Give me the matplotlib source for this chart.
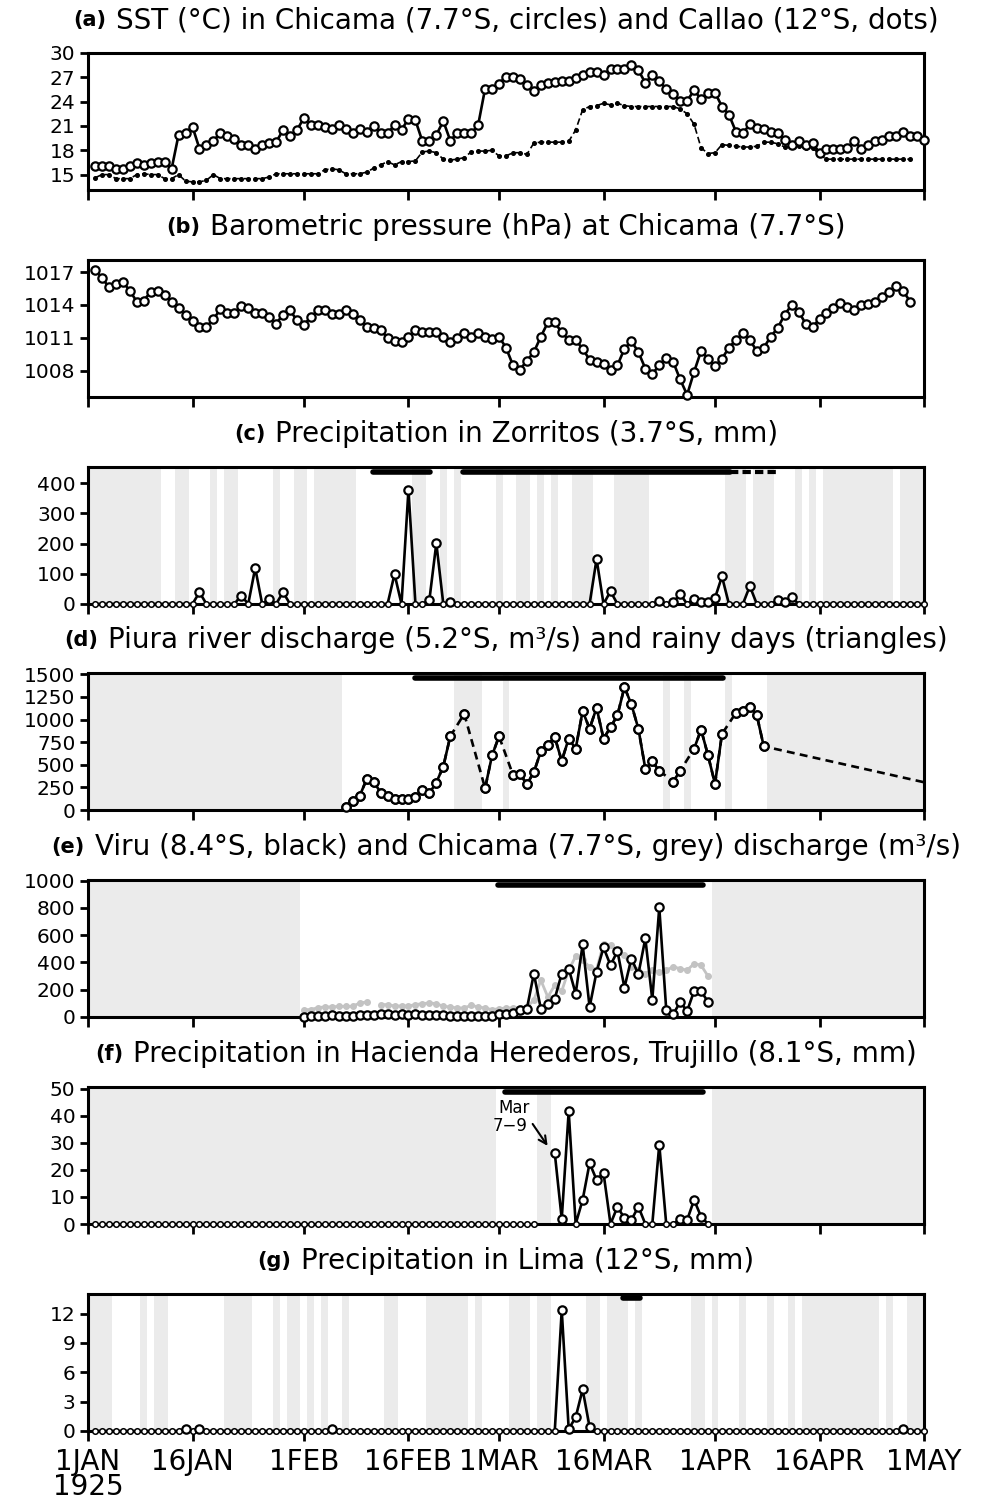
import numpy as np
import matplotlib.pyplot as plt

# ---------------- data (day 0 = 1 Jan 1925) ----------------
tick_days = [0, 15, 31, 46, 59, 74, 90, 105, 120]
tick_labels = ['1JAN\n1925', '16JAN', '1FEB', '16FEB', '1MAR', '16MAR', '1APR', '16APR', '1MAY']

# (a) SST
sst_chicama = [16.1, 16.0, 16.0, 15.7, 15.7, 16.1, 16.4, 16.2, 16.4, 16.6,
               16.6, 15.7, 19.9, 20.1, 20.9, 18.2, 18.6, 19.2, 20.1, 19.7,
               19.4, 18.6, 18.6, 18.2, 18.6, 18.9, 19.0, 20.5, 19.7, 20.5,
               22.0, 21.1, 21.1, 20.9, 20.6, 21.1, 20.6, 20.1, 20.6, 20.3,
               21.0, 20.1, 20.1, 21.1, 20.5, 21.9, 21.7, 19.1, 19.1, 19.9,
               21.6, 19.2, 20.1, 20.1, 20.1, 21.1, 25.6, 25.6, 26.2, 27.1,
               27.1, 26.8, 26.0, 25.3, 26.1, 26.3, 26.4, 26.5, 26.5, 26.9,
               27.3, 27.6, 27.6, 27.3, 28.0, 28.0, 28.0, 28.5, 27.9, 26.3,
               27.3, 26.5, 25.6, 25.0, 24.1, 24.1, 25.4, 24.3, 25.1, 25.1,
               23.4, 22.4, 20.3, 20.1, 21.2, 20.8, 20.6, 20.3, 20.1, 19.3,
               18.6, 19.2, 18.7, 18.9, 17.7, 18.2, 18.2, 18.2, 18.3, 19.2,
               18.2, 18.7, 19.2, 19.3, 19.7, 19.7, 20.2, 19.7, 19.7, 19.3]
sst_chicama_days = np.arange(1, 121)
sst_callao = [14.6, 15.0, 15.0, 14.5, 14.5, 14.5, 15.0, 15.1, 15.0, 15.0,
              14.5, 14.5, 15.0, 14.2, 14.1, 14.1, 14.3, 15.0, 14.5, 14.5,
              14.5, 14.5, 14.5, 14.5, 14.5, 14.7, 15.1, 15.1, 15.1, 15.1,
              15.1, 15.1, 15.1, 15.6, 15.7, 15.6, 15.1, 15.1, 15.1, 15.3,
              15.8, 16.2, 16.6, 16.2, 16.6, 16.6, 16.7, 17.8, 17.9, 17.7,
              16.9, 16.8, 16.9, 17.1, 17.8, 17.9, 17.9, 18.0, 17.3, 17.3,
              17.7, 17.7, 17.5, 18.9, 19.0, 19.0, 19.0, 19.0, 19.1, 20.5,
              23.0, 23.4, 23.5, 23.8, 23.6, 23.8, 23.5, 23.4, 23.4, 23.4,
              23.4, 23.4, 23.4, 23.4, 23.1, 22.5, 21.2, 18.3, 17.6, 17.7,
              18.7, 18.6, 18.5, 18.4, 18.4, 18.5, 19.0, 19.0, 18.8, 18.4,
              18.5, 18.5, 18.3, 18.3, 17.5, 16.9, 16.9, 16.9, 16.9, 16.9,
              16.9, 16.9, 16.9, 16.9, 16.9, 16.9, 16.9, 16.9]
sst_callao_days = np.arange(1, 119)

# (b) pressure
pressure = [1017.2, 1016.5, 1015.6, 1015.9, 1016.1, 1015.3, 1014.3, 1014.4, 1015.2, 1015.3,
            1014.9, 1014.3, 1013.7, 1013.1, 1012.5, 1012.0, 1012.0, 1012.7, 1013.6, 1013.3,
            1013.3, 1013.9, 1013.7, 1013.3, 1013.3, 1012.9, 1012.3, 1013.1, 1013.5, 1012.6,
            1012.2, 1012.9, 1013.5, 1013.5, 1013.2, 1013.2, 1013.5, 1013.2, 1012.6, 1012.0,
            1011.9, 1011.7, 1011.0, 1010.7, 1010.6, 1011.1, 1011.7, 1011.5, 1011.5, 1011.5,
            1011.1, 1010.6, 1011.0, 1011.4, 1011.1, 1011.4, 1011.1, 1010.9, 1011.1, 1010.1,
            1008.5, 1008.1, 1008.9, 1009.7, 1011.1, 1012.4, 1012.4, 1011.5, 1010.8, 1010.8,
            1010.0, 1009.0, 1008.8, 1008.6, 1008.1, 1008.5, 1010.0, 1010.7, 1009.7, 1008.2,
            1007.7, 1008.5, 1009.2, 1008.8, 1007.2, 1005.8, 1007.9, 1009.8, 1009.1, 1008.4,
            1009.1, 1010.1, 1010.8, 1011.4, 1010.8, 1009.8, 1010.1, 1011.1, 1011.9, 1013.1,
            1014.0, 1013.4, 1012.3, 1012.0, 1012.7, 1013.3, 1013.7, 1014.2, 1013.8, 1013.5,
            1014.0, 1014.1, 1014.3, 1014.7, 1015.2, 1015.7, 1015.3, 1014.3]
pressure_days = np.arange(1, 119)

# (c) Zorritos precipitation (days with rain; all other days 0)
zor_days = np.arange(1, 121)
zor_rain_days = [16, 22, 24, 26, 28, 44, 46, 49, 50, 52, 73, 75, 82, 84, 85, 87, 88, 89, 90, 91, 95, 99, 100, 101]
zor_rain_mm = [39, 28, 119, 17, 39, 99, 378, 13, 201, 5, 149, 42, 11, 5, 33, 17, 5, 5, 20, 91, 59, 13, 5, 22]
zor_gaps = [(0, 10.5), (12.5, 14.5), (17.5, 18.5), (19.5, 21.5), (26.5, 27.5), (29.5, 31.5),
            (32.5, 38.5), (46.5, 48.5), (50.5, 51.5), (52.5, 53.5), (58.5, 59.5), (61.5, 63.5),
            (64.5, 65.5), (66.5, 67.5), (69.5, 72.5), (75.5, 80.5), (91.5, 94.5), (95.5, 98.5),
            (101.5, 102.5), (103.5, 104.5), (105.5, 115.5), (116.5, 120)]
zor_bars = [(40.9, 49.1), (53.8, 92.2)]
zor_bar_dashed = (92.2, 98.7)

# (d) Piura discharge (nan = missing day)
piura_days = np.arange(37, 98)
piura_q = [37, 104, 156, 341, 315, 193, 156, 119, 119, 119,
           148, 222, 185, 304, 481, 815, np.nan, 1063, np.nan, np.nan,
           241, 604, 815, np.nan, 389, 400, 285, 419, 648, 722,
           804, 544, 789, 678, 1093, 900, 1130, 789, 915, 1048,
           1359, 1167, 900, 456, 537, 433, np.nan, 315, 433, np.nan,
           678, 889, 604, 289, 841, np.nan, 1074, 1093, 1141, 1048, 704]
piura_end_day, piura_end_q = 120, 307
rain_heavy = [42, 43, 45, 48, 60, 66, 68, 69, 87, 88, 89, 90, 92]
rain_light = [32, 50, 52, 53, 54, 57, 58, 63, 64, 67, 70, 71, 73, 79, 81, 82, 84, 85, 86,
              91, 93, 94, 95, 107, 110]
piura_gaps = [(0, 36.5), (52.5, 56.5), (59.5, 60.5), (82.5, 83.5), (85.5, 86.5), (91.5, 92.5), (97.5, 120)]
piura_bars = [(46.9, 91.2)]

# (e) Viru and Chicama discharge
viru_days = np.arange(31, 90)
viru_q = [0, 5, 5, 5, 12, 5, 5, 5, 12, 12,
          12, 20, 20, 12, 20, 12, 20, 12, 12, 12,
          12, 5, 5, 5, 5, 5, 5, 5, 20, 25,
          29, 49, 61, 318, 61, 93, 135, 318, 355, 171,
          532, 73, 331, 510, 380, 483, 216, 429, 314, 576,
          127, 804, 54, 20, 110, 44, 191, 191, 110]
chic_days = np.arange(31, 90)
chic_q = [54, 54, 69, 74, 74, 78, 78, 78, 103, 110,
          np.nan, 91, 91, 81, 81, 81, 91, 98, 103, 98,
          78, 74, 66, 66, 86, 74, 66, 54, 61, 66,
          66, 66, 74, 123, 270, 147, 233, 191, 343, 446,
          417, 368, 348, 539, 527, 478, 453, 368, 343, 319,
          343, 331, 343, 368, 355, 343, 392, 380, 299]
viru_gaps = [(0, 30.5), (89.5, 120)]
viru_bars = [(58.8, 88.3)]

# (f) Hacienda Herederos precipitation
her_days = list(range(1, 65)) + list(range(67, 90))
her_mm = [0] * 64 + [26.2, 1.9, 41.6, 0, 8.9, 22.5, 16.3, 18.8, 0, 6.4,
                     2.1, 1.5, 6.4, 0, 0, 29.3, 0, 0, 1.9, 1.5, 8.9, 2.7, 0]
her_gaps = [(0, 58.5), (64.5, 66.5), (89.5, 120)]
her_bars = [(59.8, 88.3)]

# (g) Lima precipitation
lima_days = np.arange(1, 121)
lima_rain_days = [14, 16, 35, 68, 69, 70, 71, 72, 117]
lima_rain_mm = [0.2, 0.2, 0.2, 12.35, 0.2, 1.4, 4.25, 0.4, 0.2]
lima_gaps = [(0, 3.5), (7.5, 8.5), (9.5, 11.5), (19.5, 23.5), (26.5, 27.5), (28.5, 30.5),
             (31.5, 32.5), (33.5, 34.5), (36.5, 37.5), (42.5, 44.5), (48.5, 54.5), (55.5, 56.5),
             (60.5, 63.5), (64.5, 66.5), (71.5, 73.5), (74.5, 77.5), (78.5, 79.5), (86.5, 88.5),
             (89.5, 90.5), (93.5, 94.5), (97.5, 98.5), (100.5, 101.5), (102.5, 113.5),
             (114.5, 115.5), (117.5, 120)]
lima_bars = [(76.8, 79.2)]

titles = [('(a)', 'SST (°C) in Chicama (7.7°S, circles) and Callao (12°S, dots)'),
          ('(b)', 'Barometric pressure (hPa) at Chicama (7.7°S)'),
          ('(c)', 'Precipitation in Zorritos (3.7°S, mm)'),
          ('(d)', 'Piura river discharge (5.2°S, m³/s) and rainy days (triangles)'),
          ('(e)', 'Viru (8.4°S, black) and Chicama (7.7°S, grey) discharge (m³/s)'),
          ('(f)', 'Precipitation in Hacienda Herederos, Trujillo (8.1°S, mm)'),
          ('(g)', 'Precipitation in Lima (12°S, mm)')]

# ---------------- figure ----------------
W, H = 994, 1503
fig = plt.figure(figsize=(W / 100, H / 100), dpi=100)
GREY = '#ebebeb'
LEFT, RIGHT = 88, 924
tops = [53, 260, 467, 673, 880, 1087, 1294]
PH = 137
MS, MEW = 6, 1.6


def make_ax(top):
    ax = fig.add_axes([LEFT / W, 1 - (top + PH) / H, (RIGHT - LEFT) / W, PH / H])
    ax.set_xlim(0, 120)
    ax.set_xticks(tick_days)
    ax.set_xticklabels([])
    for s in ax.spines.values():
        s.set_linewidth(2.2)
    ax.tick_params(axis='x', direction='out', length=7, width=2)
    ax.tick_params(axis='y', direction='out', length=6, width=2, labelsize=14.5, pad=3)
    return ax


def shade(ax, gaps):
    for s, e in gaps:
        ax.axvspan(s, e, color=GREY, lw=0, zorder=0)


def top_bars(ax, bars, frac=0.965):
    for s, e in bars:
        ax.plot([s, e], [frac, frac], transform=ax.get_xaxis_transform(), color='k',
                lw=4, solid_capstyle='round', clip_on=False, zorder=5)


def circles(ax, x, y, **kw):
    ax.plot(x, y, color='k', lw=1.9, marker='o', ms=MS, mfc='white', mec='k', mew=MEW,
            clip_on=False, zorder=4, **kw)


def rain_plot(ax, days, vals):
    vals = np.asarray(vals, dtype=float)
    days = np.asarray(days)
    ax.plot(days, vals, color='k', lw=1.9, zorder=3, clip_on=False)
    z = vals == 0
    ax.plot(days[z], vals[z], ls='none', marker='o', ms=4, mfc='white', mec='k', mew=1.1,
            zorder=4, clip_on=False)
    ax.plot(days[~z], vals[~z], ls='none', marker='o', ms=MS, mfc='white', mec='k', mew=MEW,
            zorder=4, clip_on=False)


axes = [make_ax(t) for t in tops]

# (a)
ax = axes[0]
ax.plot(sst_callao_days, sst_callao, color='k', lw=1.2, ls=(0, (4, 2)), marker='o', ms=2.6, zorder=3)
circles(ax, sst_chicama_days, sst_chicama)
ax.set_ylim(13.1, 30)
ax.set_yticks([15, 18, 21, 24, 27, 30])

# (b)
ax = axes[1]
circles(ax, pressure_days, pressure)
ax.set_ylim(1005.6, 1018.1)
ax.set_yticks([1008, 1011, 1014, 1017])

# (c)
ax = axes[2]
shade(ax, zor_gaps)
zor_mm = np.zeros(len(zor_days))
zor_mm[np.searchsorted(zor_days, zor_rain_days)] = zor_rain_mm
rain_plot(ax, zor_days, zor_mm)
top_bars(ax, zor_bars)
ax.plot(zor_bar_dashed, [0.965, 0.965], transform=ax.get_xaxis_transform(), color='k',
        lw=3, ls=(0, (2, 1)), clip_on=False, zorder=5)
ax.set_ylim(0, 453)
ax.set_yticks([0, 100, 200, 300, 400])

# (d)
ax = axes[3]
shade(ax, piura_gaps)
pq = np.asarray(piura_q, dtype=float)
ok = ~np.isnan(pq)
ax.plot(list(piura_days[ok]) + [piura_end_day], list(pq[ok]) + [piura_end_q], color='k',
        lw=1.9, ls=(0, (3, 2)), zorder=3)
circles(ax, piura_days, pq)
ax.plot(piura_days[ok], pq[ok], ls='none', marker='o', ms=MS, mfc='white', mec='k', mew=MEW, zorder=4)
ax.plot(rain_heavy, np.zeros(len(rain_heavy)), ls='none', marker=6, ms=10, color='k', zorder=5)
ax.plot(rain_light, np.zeros(len(rain_light)), ls='none', marker=6, ms=6, color='k', zorder=5)
top_bars(ax, piura_bars)
ax.set_ylim(0, 1515)
ax.set_yticks([0, 250, 500, 750, 1000, 1250, 1500])

# (e)
ax = axes[4]
shade(ax, viru_gaps)
ax.plot(chic_days, chic_q, color='#c3c3c3', lw=2, marker='o', ms=4, zorder=2)
circles(ax, viru_days, viru_q)
top_bars(ax, viru_bars)
ax.set_ylim(0, 1005)
ax.set_yticks([0, 200, 400, 600, 800, 1000])

# (f)
ax = axes[5]
shade(ax, her_gaps)
her_d = np.asarray(her_days)
her_v = np.asarray(her_mm, dtype=float)
rain_plot(ax, her_d[her_d < 67], her_v[her_d < 67])
rain_plot(ax, her_d[her_d >= 67], her_v[her_d >= 67])
top_bars(ax, her_bars)
ax.text(61.2, 43.0, 'Mar', ha='center', va='center', fontsize=12)
ax.text(60.6, 36.3, '7\u22129', ha='center', va='center', fontsize=12)
ax.annotate('', xy=(66.2, 28.0), xytext=(63.6, 37.8),
            arrowprops=dict(arrowstyle='->', lw=1.5, color='k', mutation_scale=14))
ax.set_ylim(0, 50.6)
ax.set_yticks([0, 10, 20, 30, 40, 50])

# (g)
ax = axes[6]
shade(ax, lima_gaps)
lima_mm = np.zeros(len(lima_days))
lima_mm[np.searchsorted(lima_days, lima_rain_days)] = lima_rain_mm
rain_plot(ax, lima_days, lima_mm)
top_bars(ax, lima_bars, frac=0.97)
ax.set_ylim(0, 14)
ax.set_yticks([0, 3, 6, 9, 12])
ax.set_xticklabels(tick_labels)
ax.tick_params(axis='x', labelsize=20, pad=5)
for lab in ax.get_xticklabels():
    lab.set_linespacing(0.9)

# titles: bold small label + regular text, centred over the axes
renderer = fig.canvas.get_renderer()
centre = (LEFT + RIGHT) / 2
for (lab, txt), top in zip(titles, tops):
    yc = 1 - (top - 33) / H
    t1 = fig.text(0, yc, lab, fontsize=15, weight='bold', va='center')
    t2 = fig.text(0, yc, txt, fontsize=20, va='center')
    w1 = t1.get_window_extent(renderer).width
    w2 = t2.get_window_extent(renderer).width
    gap = 10
    x0 = centre - (w1 + gap + w2) / 2
    t1.set_x(x0 / W)
    t2.set_x((x0 + w1 + gap) / W)

fig.savefig('out.png', dpi=100)
